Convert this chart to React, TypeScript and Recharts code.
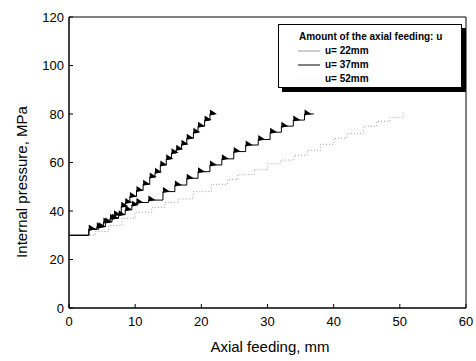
import React from "react"
import { LineChart, Line, XAxis, YAxis, ReferenceLine, Label } from "recharts"

// u = 22mm
const feed22 = [0, 3, 4.2, 5.2, 6.2, 6.8, 7.9, 8.5, 9.2, 10.2, 11.2, 12.2, 13, 13.8, 14.7, 15.5, 16.2, 17, 17.8, 18.8, 19.5, 20.5, 21.3, 22]
const press22 = [30, 32.5, 33.5, 35.5, 37, 38.5, 42, 43.5, 46, 48.5, 51, 54, 56, 59, 61.5, 64, 65.5, 67.5, 70, 72.5, 75, 77.5, 80, 80]

// u = 37mm
const feed37 = [0, 3, 4.5, 5.5, 6.5, 7.5, 8.5, 9.5, 10.2, 12, 14.2, 16, 17.8, 19.5, 21.3, 23.1, 24.9, 26.7, 28.6, 30.4, 32.1, 33.9, 35.6, 37]
const press37 = [30, 32.5, 33.5, 35.5, 37, 38.5, 40.5, 42.5, 43.5, 44.5, 48, 50.7, 53.5, 56.2, 59, 61.5, 64.5, 67.2, 69.5, 72.5, 75, 77.5, 80, 80]

// u = 52mm
const feed52 = [0, 4, 6, 8, 10, 12.5, 14.5, 16.5, 18.8, 21.5, 24, 25.5, 28, 30, 32, 34, 36, 38, 40, 42, 44.5, 46.5, 48.5, 50.5]
const press52 = [30, 31.5, 34, 37, 39.5, 41.5, 43.5, 45, 48, 51, 53, 55, 57, 59.5, 61, 63, 65, 67.5, 70, 72, 75, 77, 78.5, 81]

const xTicks = [0, 10, 20, 30, 40, 50, 60]
const yTicks = [0, 20, 40, 60, 80, 100, 120]

const legendTitle = "Amount of the axial feeding: u"
const legendItems = [
  { name: "u= 22mm", color: "#9a9a9a", dash: undefined as string | undefined },
  { name: "u= 37mm", color: "#000", dash: undefined as string | undefined },
  { name: "u= 52mm", color: "#e8e8e8", dash: "1 3" },
]

const toRows = (xs: number[], ys: number[]) => xs.map((x, i) => ({ x, y: ys[i] }))

const font = "'Liberation Sans', Arial, sans-serif"

const makeWedge = (last: number) => (props: any) => {
  const { cx, cy, index, key } = props
  if (cx == null || cy == null || index === 0 || index === last) return <g key={key} />
  return <polygon key={key} points={`${cx},${cy - 4.5} ${cx},${cy + 1.5} ${cx + 7},${cy}`} fill="#000" />
}

export default function App() {
  const s22 = toRows(feed22, press22)
  const s37 = toRows(feed37, press37)
  const s52 = toRows(feed52, press52)

  return (
    <div style={{ position: "absolute", left: 0, top: 0, width: 476, height: 361, background: "#fff", fontFamily: font }}>
      <LineChart width={476} height={361} margin={{ top: 17, right: 10, bottom: 0, left: 0 }}>
        <XAxis
          type="number"
          dataKey="x"
          domain={[0, 60]}
          ticks={xTicks}
          allowDataOverflow
          height={53}
          tickSize={-4}
          tickMargin={13}
          tickLine={{ stroke: "#000" }}
          axisLine={{ stroke: "#000", strokeWidth: 1.5 }}
          tick={{ fill: "#000", fontSize: 13, fontFamily: font }}
        >
          <Label
            content={() => (
              <text x={270} y={352} textAnchor="middle" fontSize={15} fontFamily={font} fill="#000">
                Axial feeding, mm
              </text>
            )}
          />
        </XAxis>
        <YAxis
          type="number"
          domain={[0, 120]}
          ticks={yTicks}
          width={69}
          tickSize={-4}
          tickMargin={9}
          tickLine={{ stroke: "#000" }}
          axisLine={{ stroke: "#000", strokeWidth: 1.5 }}
          tick={{ fill: "#000", fontSize: 13, fontFamily: font }}
        >
          <Label
            content={() => (
              <text
                x={27}
                y={182}
                textAnchor="middle"
                fontSize={15}
                fontFamily={font}
                fill="#000"
                transform="rotate(-90 27 182)"
              >
                Internal pressure, MPa
              </text>
            )}
          />
        </YAxis>
        <ReferenceLine y={120} stroke="#000" strokeWidth={1} />
        <ReferenceLine x={60} stroke="#000" strokeWidth={1} />
        <Line
          data={s52}
          dataKey="y"
          type="stepAfter"
          stroke="#9c9c9c"
          strokeWidth={1}
          strokeDasharray="1 2"
          dot={false}
          isAnimationActive={false}
        />
        <Line
          data={s37}
          dataKey="y"
          type="stepAfter"
          stroke="#000"
          strokeWidth={1}
          dot={makeWedge(s37.length - 1)}
          isAnimationActive={false}
        />
        <Line
          data={s22}
          dataKey="y"
          type="stepAfter"
          stroke="#000"
          strokeWidth={1}
          dot={makeWedge(s22.length - 1)}
          isAnimationActive={false}
        />
      </LineChart>
      <div
        style={{
          position: "absolute",
          left: 278,
          top: 24,
          width: 184,
          height: 64,
          boxSizing: "border-box",
          border: "1px solid #000",
          boxShadow: "4px 4px 0 #000",
          background: "#fff",
          fontSize: 10,
          fontWeight: "bold",
          color: "#000",
        }}
      >
        <div style={{ position: "absolute", left: 20, top: 6, whiteSpace: "nowrap" }}>{legendTitle}</div>
        {legendItems.map((it, i) => (
          <div
            key={it.name}
            style={{ position: "absolute", left: 19, top: 20 + i * 14, display: "flex", alignItems: "center", whiteSpace: "nowrap" }}
          >
            <svg width={24} height={10}>
              <line x1={0} y1={5} x2={22} y2={5} stroke={it.color} strokeWidth={1} strokeDasharray={it.dash} />
            </svg>
            <span style={{ marginLeft: 3 }}>{it.name}</span>
          </div>
        ))}
      </div>
    </div>
  )
}
